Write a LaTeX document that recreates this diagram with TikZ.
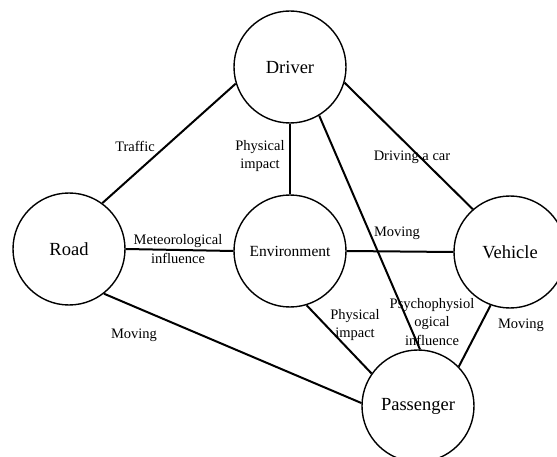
\documentclass[tikz,border=0pt]{standalone}
\usepackage{fontspec}
\setmainfont{Liberation Serif}

\tikzset{
  entity/.style={circle,draw,line width=1.4pt,minimum size=112pt,inner sep=0pt,
    font=\fontsize{18.5}{22}\selectfont},
  link/.style={line width=2pt},
  lbl/.style={align=center,inner sep=0pt,font=\fontsize{14.5}{18.5}\selectfont}
}

\begin{document}
\begin{tikzpicture}[x=1pt,y=-1pt]
\useasboundingbox (0,0) rectangle (557,457);
% the five entities
\node[entity] (driver) at (290,67) {Driver};
\node[entity] (road) at (69,249) {Road};
\node[entity,font=\fontsize{15.5}{18}\selectfont] (env) at (290,251) {Environment};
\node[entity] (vehicle) at (510,252) {Vehicle};
\node[entity] (passenger) at (418,406) {Passenger};

% links
\draw[link] (driver.197) -- (road.54);
\draw[link] (driver.south) -- (env.north);
\draw[link] (driver.301) -- (passenger.88);
\draw[link] (driver.344) -- (vehicle.131);
\draw[link] (road.east) -- (env.west);
\draw[link] (env.east) -- (vehicle.west);
\draw[link] (road.308) -- (passenger.177);
\draw[link] (env.287) -- (passenger.145);
\draw[link] (vehicle.250) -- (passenger.44);

% labels
\node[lbl] (traffic) at (135,146) {Traffic};
\node[lbl] (impactTop) at (260,156) {Physical\\impact};
\node[lbl] (driving) at (412,157) {Driving a car};
\node[lbl] (meteo) at (178,249) {Meteorological\\influence};
\node[lbl] (movingEV) at (397,233) {Moving};
\node[lbl] (movingRP) at (134,335) {Moving};
\node[lbl] (impactBot) at (355,325) {Physical\\impact};
\node[lbl] (psycho) at (432,322) {Psychophysiol\\ogical\\influence};
\node[lbl] (movingVP) at (521,325) {Moving};
\end{tikzpicture}
\end{document}
